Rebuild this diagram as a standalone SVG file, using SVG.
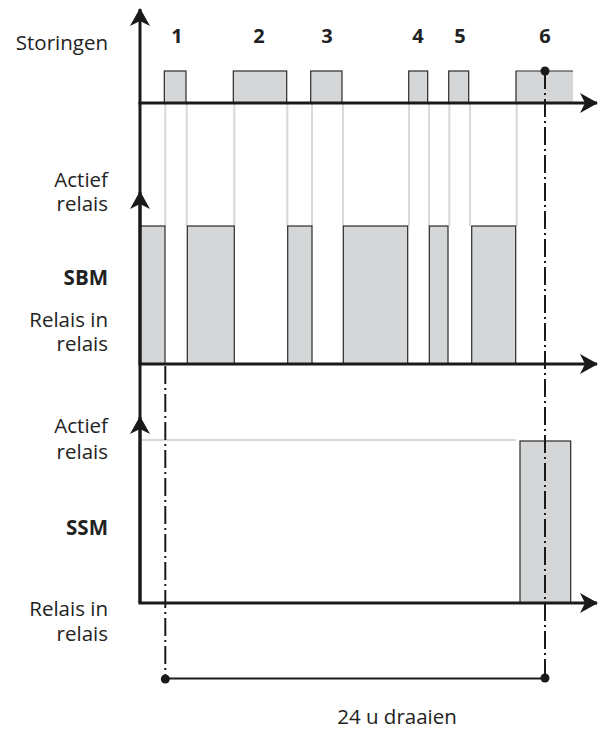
<svg xmlns="http://www.w3.org/2000/svg" width="600" height="729" viewBox="0 0 600 729">
<style>
text{font-family:"Open Sans","Noto Sans","Liberation Sans",sans-serif;fill:#222;font-size:20.5px}
.lbl{text-anchor:end}
.b{font-weight:bold}
.num{font-weight:bold;text-anchor:middle;font-size:20px}
.pulse{fill:#d5d6d8;stroke:#2a2a2a;stroke-width:1.2}
.trans{stroke:#d8d8d8;stroke-width:2;fill:none}
.axis{stroke:#1a1a1a;stroke-width:3;fill:none}
.dd{stroke:#1a1a1a;stroke-width:2;fill:none;stroke-dasharray:18 4 2 4}
</style>
<defs>
<marker id="ah" markerWidth="18" markerHeight="20" refX="17" refY="10" orient="auto" markerUnits="userSpaceOnUse">
<path d="M0,0 L18,10 L0,20 L5,10 Z" fill="#1a1a1a"/>
</marker>
</defs>
<g id="labels">
<text class="lbl" x="108" y="50">Storingen</text>
<text class="lbl" x="108" y="187">Actief<tspan x="108" y="211">relais</tspan></text>
<text class="lbl b" x="108" y="285">SBM</text>
<text class="lbl" x="108" y="327">Relais in<tspan x="108" y="351">relais</tspan></text>
<text class="lbl" x="108" y="433">Actief<tspan x="108" y="459">relais</tspan></text>
<text class="lbl b" x="108" y="535">SSM</text>
<text class="lbl" x="108" y="616">Relais in<tspan x="108" y="641">relais</tspan></text>
<text class="num" x="177" y="43">1</text>
<text class="num" x="259" y="43">2</text>
<text class="num" x="327" y="43">3</text>
<text class="num" x="418" y="43">4</text>
<text class="num" x="460" y="43">5</text>
<text class="num" x="545" y="43">6</text>
<text x="397" y="724" text-anchor="middle">24 u draaien</text>
</g>
<g id="transitions">
<path class="trans" d="M165.3,104V226 M186.7,104V226 M234.3,104V226 M287.3,104V226 M312,104V226 M343,104V226 M409,104V226 M429,104V226 M449.3,104V226 M470,104V226 M516.7,104V226"/>
<path class="trans" d="M142,440H516"/>
</g>
<g id="storingen">
<rect class="pulse" x="164.3" y="71" width="21.7" height="32"/>
<rect class="pulse" x="233.3" y="71" width="53.4" height="32"/>
<rect class="pulse" x="310.7" y="71" width="31.3" height="32"/>
<rect class="pulse" x="408.7" y="71" width="19" height="32"/>
<rect class="pulse" x="448.7" y="71" width="20" height="32"/>
<rect x="516" y="71" width="57" height="32" fill="#d5d6d8"/>
<path d="M516,103V71H573" stroke="#2a2a2a" stroke-width="1.2" fill="none"/>
</g>
<g id="sbm">
<rect class="pulse" x="140" y="226" width="25" height="138"/>
<rect class="pulse" x="187.3" y="226" width="47" height="138"/>
<rect class="pulse" x="287.7" y="226" width="24.3" height="138"/>
<rect class="pulse" x="343.3" y="226" width="64.4" height="138"/>
<rect class="pulse" x="429.3" y="226" width="18.7" height="138"/>
<rect class="pulse" x="471.7" y="226" width="44" height="138"/>
</g>
<g id="ssm">
<rect class="pulse" x="520" y="441" width="50.7" height="162"/>
</g>
<g id="connectors">
<path class="axis" d="M140,603V9" marker-end="url(#ah)"/>
<path class="axis" d="M140,364V192" marker-end="url(#ah)"/>
<path class="axis" d="M140,603V417" marker-end="url(#ah)"/>
<path class="axis" d="M138.5,103H597" marker-end="url(#ah)"/>
<path class="axis" d="M138.5,364H597" marker-end="url(#ah)"/>
<path class="axis" d="M138.5,603H597" marker-end="url(#ah)"/>
<path class="dd" d="M165.3,366V678"/>
<path class="dd" d="M545,71V678"/>
<path d="M165.3,678.5H545" stroke="#1a1a1a" stroke-width="2"/>
<circle cx="545" cy="71" r="4.5" fill="#1a1a1a"/>
<circle cx="165.3" cy="679" r="4.5" fill="#1a1a1a"/>
<circle cx="545" cy="678" r="4.5" fill="#1a1a1a"/>
</g>
</svg>
